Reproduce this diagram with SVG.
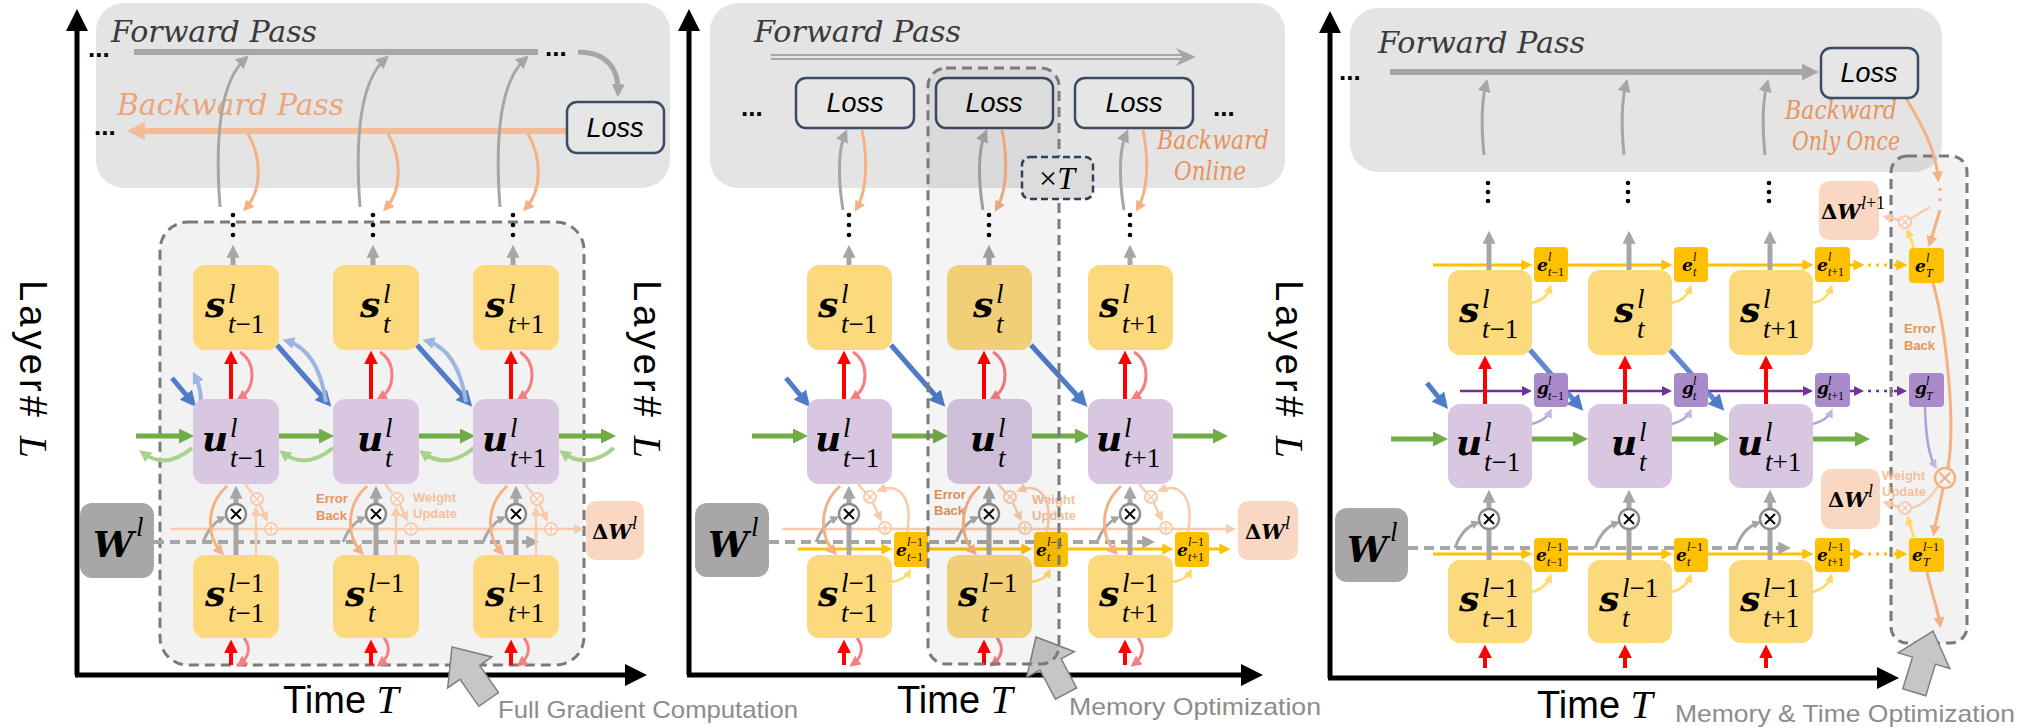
<svg xmlns="http://www.w3.org/2000/svg" width="2032" height="728" viewBox="0 0 2032 728">
<style>
.panel{fill:#e4e4e4}
.sb{fill:#fcd97c}
.ub{fill:#d9c7e2}
.wb{fill:#a8a6a6}
.dwb{fill:#f9d7c2}
.eb{fill:#ffc000}
.gb{fill:#a98bcb}
.loss{fill:#e6e6e6;stroke:#3b4a66;stroke-width:2.5}
.dash{stroke:#7a7a7a;stroke-width:3;stroke-dasharray:10 6}
.mv{font-family:"DejaVu Serif",serif;font-weight:bold;font-style:italic;font-size:36px}
.ix{font-family:"Liberation Serif",serif;font-style:italic;font-size:27px}
.mvs{font-family:"DejaVu Serif",serif;font-weight:bold;font-style:italic;font-size:17px}
.ixs{font-family:"Liberation Serif",serif;font-style:italic;font-size:12px}
.dl{font-family:"DejaVu Serif",serif;font-weight:bold;font-size:21px}
.dW{font-family:"DejaVu Serif",serif;font-weight:bold;font-style:italic;font-size:21px}
.dx{font-family:"Liberation Serif",serif;font-style:italic;font-size:18px}
.up{font-style:normal}
.fp{font-family:"DejaVu Serif",serif;font-style:italic;font-size:29px;fill:#3a3a3a}
.bp{font-family:"DejaVu Serif",serif;font-style:italic;font-size:29px;fill:#eaa57c}
.bo{font-family:"DejaVu Serif",serif;font-style:italic;font-size:26px;fill:#e8935c}
.ls{font-family:"Liberation Sans",sans-serif;font-style:italic;font-size:27px;text-anchor:middle}
.ax{font-family:"Liberation Sans",sans-serif;font-size:38px}
.axi{font-family:"Liberation Serif",serif;font-style:italic;font-size:40px}
.cap{font-family:"Liberation Sans",sans-serif;font-size:24px;fill:#8c8c8c}
.eb-t{font-family:"Liberation Sans",sans-serif;font-weight:bold;font-size:13px;fill:#e8935c}
.wu-t{font-family:"Liberation Sans",sans-serif;font-weight:bold;font-size:13px;fill:#f5bf9a}
.dots{font-family:"Liberation Sans",sans-serif;font-weight:bold;font-size:26px}
.g3{fill:none;stroke:#a6a6a6;stroke-width:3}
.g5{fill:none;stroke:#a6a6a6;stroke-width:5}
.or3{fill:none;stroke:#f4b183;stroke-width:3}
.pe{fill:none;stroke:#f8cbad;stroke-width:2.5}
.red{fill:none;stroke:#ff0000;stroke-width:4}
.lred{fill:none;stroke:#f57f82;stroke-width:3}
.grn{fill:none;stroke:#70ad47;stroke-width:5}
.lgrn{fill:none;stroke:#a9d18e;stroke-width:4}
.blu{fill:none;stroke:#4f7cc9;stroke-width:5}
.lblu{fill:none;stroke:#9db5e0;stroke-width:4}
.gold{fill:none;stroke:#ffc000;stroke-width:3}
.lyel{fill:none;stroke:#ffd966;stroke-width:2.5}
.pur{fill:none;stroke:#7030a0;stroke-width:2.5}
.lpur{fill:none;stroke:#b4a0d8;stroke-width:2.5}
.wd{fill:none;stroke:#a6a6a6;stroke-width:4;stroke-dasharray:10 6}
.axis{fill:none;stroke:#000;stroke-width:5}
.dot{fill:#000}
</style>
<defs>
<marker id="ag" viewBox="0 0 10 10" refX="6" refY="5" markerWidth="13" markerHeight="13" markerUnits="userSpaceOnUse" orient="auto"><path d="M0,0 L10,5 L0,10 z" fill="#a6a6a6"/></marker>
<marker id="ags" viewBox="0 0 10 10" refX="6" refY="5" markerWidth="9" markerHeight="9" markerUnits="userSpaceOnUse" orient="auto"><path d="M0,0 L10,5 L0,10 z" fill="#a6a6a6"/></marker>
<marker id="agL" viewBox="0 0 10 10" refX="6" refY="5" markerWidth="17" markerHeight="17" markerUnits="userSpaceOnUse" orient="auto"><path d="M0,0 L10,5 L0,10 z" fill="#a6a6a6"/></marker>
<marker id="ao" viewBox="0 0 10 10" refX="6" refY="5" markerWidth="11" markerHeight="11" markerUnits="userSpaceOnUse" orient="auto"><path d="M0,0 L10,5 L0,10 z" fill="#f4b183"/></marker>
<marker id="aoL" viewBox="0 0 10 10" refX="6" refY="5" markerWidth="18" markerHeight="18" markerUnits="userSpaceOnUse" orient="auto"><path d="M0,0 L10,5 L0,10 z" fill="#f1bc98"/></marker>
<marker id="ape" viewBox="0 0 10 10" refX="6" refY="5" markerWidth="10" markerHeight="10" markerUnits="userSpaceOnUse" orient="auto"><path d="M0,0 L10,5 L0,10 z" fill="#f8cbad"/></marker>
<marker id="ar" viewBox="0 0 10 10" refX="6" refY="5" markerWidth="14" markerHeight="14" markerUnits="userSpaceOnUse" orient="auto"><path d="M0,0 L10,5 L0,10 z" fill="#ff0000"/></marker>
<marker id="alr" viewBox="0 0 10 10" refX="6" refY="5" markerWidth="11" markerHeight="11" markerUnits="userSpaceOnUse" orient="auto"><path d="M0,0 L10,5 L0,10 z" fill="#f57f82"/></marker>
<marker id="agn" viewBox="0 0 10 10" refX="6" refY="5" markerWidth="15" markerHeight="15" markerUnits="userSpaceOnUse" orient="auto"><path d="M0,0 L10,5 L0,10 z" fill="#70ad47"/></marker>
<marker id="algn" viewBox="0 0 10 10" refX="6" refY="5" markerWidth="12" markerHeight="12" markerUnits="userSpaceOnUse" orient="auto"><path d="M0,0 L10,5 L0,10 z" fill="#a9d18e"/></marker>
<marker id="ab" viewBox="0 0 10 10" refX="6" refY="5" markerWidth="16" markerHeight="16" markerUnits="userSpaceOnUse" orient="auto"><path d="M0,0 L10,5 L0,10 z" fill="#4f7cc9"/></marker>
<marker id="alb" viewBox="0 0 10 10" refX="6" refY="5" markerWidth="12" markerHeight="12" markerUnits="userSpaceOnUse" orient="auto"><path d="M0,0 L10,5 L0,10 z" fill="#9db5e0"/></marker>
<marker id="ay" viewBox="0 0 10 10" refX="6" refY="5" markerWidth="11" markerHeight="11" markerUnits="userSpaceOnUse" orient="auto"><path d="M0,0 L10,5 L0,10 z" fill="#ffc000"/></marker>
<marker id="aly" viewBox="0 0 10 10" refX="6" refY="5" markerWidth="9" markerHeight="9" markerUnits="userSpaceOnUse" orient="auto"><path d="M0,0 L10,5 L0,10 z" fill="#ffd966"/></marker>
<marker id="ap" viewBox="0 0 10 10" refX="6" refY="5" markerWidth="10" markerHeight="10" markerUnits="userSpaceOnUse" orient="auto"><path d="M0,0 L10,5 L0,10 z" fill="#7030a0"/></marker>
<marker id="alp" viewBox="0 0 10 10" refX="6" refY="5" markerWidth="9" markerHeight="9" markerUnits="userSpaceOnUse" orient="auto"><path d="M0,0 L10,5 L0,10 z" fill="#c2b3e0"/></marker>
<marker id="ak" viewBox="0 0 10 10" refX="5" refY="5" markerWidth="22" markerHeight="22" markerUnits="userSpaceOnUse" orient="auto"><path d="M0,0 L10,5 L0,10 z" fill="#000"/></marker>
<g id="ox"><circle r="10" fill="#fff" stroke="#8c8c8c" stroke-width="2.5"/><path d="M-5,-5 L5,5 M-5,5 L5,-5" stroke="#000" stroke-width="2"/></g>
<g id="oxs"><circle r="6" fill="#fff" fill-opacity="0.5" stroke="#f8cbad" stroke-width="2"/><path d="M-3.5,-3.5 L3.5,3.5 M-3.5,3.5 L3.5,-3.5" stroke="#f8cbad" stroke-width="1.5"/></g>
<g id="ops"><circle r="6" fill="#fff" fill-opacity="0.5" stroke="#f8cbad" stroke-width="2"/><path d="M-4,0 H4 M0,-4 V4" stroke="#f8cbad" stroke-width="1.5"/></g>
<g id="oxb"><circle r="10" fill="#f2f2f2" stroke="#f4b183" stroke-width="2.5"/><path d="M-5.5,-5.5 L5.5,5.5 M-5.5,5.5 L5.5,-5.5" stroke="#f4b183" stroke-width="2"/></g>
<path id="blk" d="M0,0 L27,31 L12,31 L12,64 L-12,64 L-12,31 L-27,31 Z" fill="#c6c6c6" stroke="#7f7f7f" stroke-width="1.5"/>
</defs>

<!-- backgrounds: loss regions and grouping frames -->
<g id="backgrounds">
  <rect x="96" y="3" width="574" height="185" rx="28" class="panel"/>
  <rect x="160" y="222" width="424" height="443" rx="28" fill="#f2f2f2" class="dash"/>
  <rect x="710" y="3" width="575" height="185" rx="28" class="panel"/>
  <rect x="1350" y="8" width="592" height="164" rx="28" class="panel"/>
  <rect x="1891" y="156" width="76" height="487" rx="16" fill="#000" fill-opacity="0.05" class="dash"/>
</g>

<!-- axes and axis titles -->
<g id="axes">
  <path d="M77,675 V20" class="axis" marker-end="url(#ak)"/>
  <path d="M75,675 H636" class="axis" marker-end="url(#ak)"/>
  <path d="M689,675 V20" class="axis" marker-end="url(#ak)"/>
  <path d="M687,675 H1252" class="axis" marker-end="url(#ak)"/>
  <path d="M1330,678 V22" class="axis" marker-end="url(#ak)"/>
  <path d="M1328,678 H1888" class="axis" marker-end="url(#ak)"/>
  <text transform="translate(20,280) rotate(90)" class="ax" font-size="40" textLength="178" lengthAdjust="spacing">Layer# <tspan class="axi">L</tspan></text>
  <text transform="translate(634,280) rotate(90)" class="ax" font-size="40" textLength="178" lengthAdjust="spacing">Layer# <tspan class="axi">L</tspan></text>
  <text transform="translate(1276,280) rotate(90)" class="ax" font-size="40" textLength="178" lengthAdjust="spacing">Layer# <tspan class="axi">L</tspan></text>
  <text x="283" y="713" class="ax">Time <tspan class="axi">T</tspan></text>
  <text x="897" y="713" class="ax">Time <tspan class="axi">T</tspan></text>
  <text x="1537" y="718" class="ax">Time <tspan class="axi">T</tspan></text>
  <text x="498" y="718" class="cap" textLength="300" lengthAdjust="spacingAndGlyphs">Full Gradient Computation</text>
  <text x="1069" y="715" class="cap" textLength="252" lengthAdjust="spacingAndGlyphs">Memory Optimization</text>
  <text x="1675" y="722" class="cap" textLength="340" lengthAdjust="spacingAndGlyphs">Memory &amp; Time Optimization</text>
  <use href="#blk" transform="translate(452,647) rotate(-35)"/>
  <use href="#blk" transform="translate(1036,637) rotate(-28)"/>
  <use href="#blk" transform="translate(1933,631) rotate(17)"/>
</g>

<!-- panel labels -->
<g id="labels">
  <text x="111" y="42" class="fp" textLength="206" lengthAdjust="spacingAndGlyphs">Forward Pass</text>
  <text x="117" y="115" class="bp" textLength="227" lengthAdjust="spacingAndGlyphs">Backward Pass</text>
  <text x="88" y="57" class="dots">...</text>
  <text x="545" y="56" class="dots">...</text>
  <text x="94" y="135" class="dots">...</text>
  <text x="754" y="42" class="fp" textLength="207" lengthAdjust="spacingAndGlyphs">Forward Pass</text>
  <text x="741" y="116" class="dots">...</text>
  <text x="1213" y="116" class="dots">...</text>
  <text x="1157" y="149" class="bo" textLength="112" lengthAdjust="spacingAndGlyphs">Backward</text>
  <text x="1174" y="180" class="bo" textLength="72" lengthAdjust="spacingAndGlyphs">Online</text>
  <text x="1378" y="53" class="fp" textLength="207" lengthAdjust="spacingAndGlyphs">Forward Pass</text>
  <text x="1339" y="80" class="dots">...</text>
  <text x="1785" y="119" class="bo" textLength="112" lengthAdjust="spacingAndGlyphs">Backward</text>
  <text x="1792" y="150" class="bo" textLength="108" lengthAdjust="spacingAndGlyphs">Only Once</text>
  <text class="eb-t"><tspan x="316" y="503">Error</tspan><tspan x="316" y="520">Back</tspan></text>
  <text class="wu-t"><tspan x="413" y="502">Weight</tspan><tspan x="413" y="518">Update</tspan></text>
  <text class="eb-t"><tspan x="934" y="499">Error</tspan><tspan x="934" y="515">Back</tspan></text>
  <text class="wu-t"><tspan x="1032" y="504">Weight</tspan><tspan x="1032" y="520">Update</tspan></text>
  <text class="eb-t"><tspan x="1904" y="333">Error</tspan><tspan x="1904" y="350">Back</tspan></text>
  <text class="wu-t"><tspan x="1882" y="480">Weight</tspan><tspan x="1882" y="496">Update</tspan></text>
</g>

<!-- connectors -->
<g id="connectors">
  <!-- panel 1: forward / backward passes -->
  <path d="M134,52 H538" stroke="#a6a6a6" stroke-width="6"/>
  <path d="M578,52 C606,52 619,68 618,92" class="g5" marker-end="url(#ag)"/>
  <path d="M566,131 H134" stroke="#f1bc98" stroke-width="6" marker-end="url(#aoL)"/>
  <path d="M220,207 C215,140 220,82 245,59" class="g3" marker-end="url(#ag)"/>
  <path d="M360,207 C355,140 360,82 385,59" class="g3" marker-end="url(#ag)"/>
  <path d="M500,207 C495,140 500,82 525,59" class="g3" marker-end="url(#ag)"/>
  <path d="M248,134 C262,158 262,190 246,208" class="or3" marker-end="url(#ao)"/>
  <path d="M388,134 C402,158 402,190 386,208" class="or3" marker-end="url(#ao)"/>
  <path d="M528,134 C542,158 542,190 526,208" class="or3" marker-end="url(#ao)"/>
  <circle cx="233" cy="215" r="2.3" class="dot"/><circle cx="233" cy="225" r="2.3" class="dot"/><circle cx="233" cy="235" r="2.3" class="dot"/>
  <circle cx="373" cy="215" r="2.3" class="dot"/><circle cx="373" cy="225" r="2.3" class="dot"/><circle cx="373" cy="235" r="2.3" class="dot"/>
  <circle cx="513" cy="215" r="2.3" class="dot"/><circle cx="513" cy="225" r="2.3" class="dot"/><circle cx="513" cy="235" r="2.3" class="dot"/>
  <path d="M233,265 V250" class="g5" marker-end="url(#ag)"/>
  <path d="M373,265 V250" class="g5" marker-end="url(#ag)"/>
  <path d="M513,265 V250" class="g5" marker-end="url(#ag)"/>
  <!-- panel 1: spatial (red) -->
  <path d="M231,399 V356" class="red" marker-end="url(#ar)"/>
  <path d="M371,399 V356" class="red" marker-end="url(#ar)"/>
  <path d="M511,399 V356" class="red" marker-end="url(#ar)"/>
  <path d="M240,352 C256,362 256,388 240,398" class="lred" marker-end="url(#alr)"/>
  <path d="M380,352 C396,362 396,388 380,398" class="lred" marker-end="url(#alr)"/>
  <path d="M520,352 C536,362 536,388 520,398" class="lred" marker-end="url(#alr)"/>
  <path d="M231,665 V645" class="red" marker-end="url(#ar)"/>
  <path d="M371,665 V645" class="red" marker-end="url(#ar)"/>
  <path d="M511,665 V645" class="red" marker-end="url(#ar)"/>
  <path d="M244,638 C252,648 248,658 240,664" class="lred" marker-end="url(#alr)"/>
  <path d="M384,638 C392,648 388,658 380,664" class="lred" marker-end="url(#alr)"/>
  <path d="M524,638 C532,648 528,658 520,664" class="lred" marker-end="url(#alr)"/>
  <!-- panel 1: temporal (green) -->
  <path d="M136,436 H188" class="grn" marker-end="url(#agn)"/>
  <path d="M279,436 H328" class="grn" marker-end="url(#agn)"/>
  <path d="M419,436 H469" class="grn" marker-end="url(#agn)"/>
  <path d="M559,436 H610" class="grn" marker-end="url(#agn)"/>
  <path d="M192,448 Q166,470 143,453" class="lgrn" marker-end="url(#algn)"/>
  <path d="M333,448 Q306,470 283,453" class="lgrn" marker-end="url(#algn)"/>
  <path d="M474,448 Q447,470 423,453" class="lgrn" marker-end="url(#algn)"/>
  <path d="M614,448 Q588,470 563,453" class="lgrn" marker-end="url(#algn)"/>
  <!-- panel 1: recurrent (blue) -->
  <path d="M172,378 L192,402" class="blu" marker-end="url(#ab)"/>
  <path d="M277,345 L327,402" class="blu" marker-end="url(#ab)"/>
  <path d="M417,345 L468,402" class="blu" marker-end="url(#ab)"/>
  <path d="M201,402 Q201,388 195,376" class="lblu" marker-end="url(#alb)"/>
  <path d="M326,402 Q318,350 287,341" class="lblu" marker-end="url(#alb)"/>
  <path d="M466,402 Q458,350 427,341" class="lblu" marker-end="url(#alb)"/>
  <!-- panel 1: weights and gradients -->
  <path d="M154,542 H534" class="wd" marker-end="url(#ag)"/>
  <path d="M170,529 H580" class="pe" stroke-width="3" marker-end="url(#ape)"/>
  <path d="M236,555 V491" class="g5" marker-end="url(#ag)"/>
  <path d="M376,555 V491" class="g5" marker-end="url(#ag)"/>
  <path d="M516,555 V491" class="g5" marker-end="url(#ag)"/>
  <path d="M203,542 Q210,524 223,518" class="g3" marker-end="url(#ags)"/>
  <path d="M343,542 Q350,524 363,518" class="g3" marker-end="url(#ags)"/>
  <path d="M483,542 Q490,524 503,518" class="g3" marker-end="url(#ags)"/>
  <path d="M227,486 C206,505 206,535 221,552" class="or3" marker-end="url(#ao)"/>
  <path d="M367,486 C346,505 346,535 361,552" class="or3" marker-end="url(#ao)"/>
  <path d="M507,486 C486,505 486,535 501,552" class="or3" marker-end="url(#ao)"/>
  <path d="M245,484 L252,493 M385,484 L392,493 M525,484 L532,493" class="pe"/>
  <path d="M256,555 V510" class="pe" marker-end="url(#ape)"/>
  <path d="M396,555 V510" class="pe" marker-end="url(#ape)"/>
  <path d="M536,555 V510" class="pe" marker-end="url(#ape)"/>
  <path d="M260,505 L266,518" class="pe" marker-end="url(#ape)"/>
  <path d="M400,505 L406,518" class="pe" marker-end="url(#ape)"/>
  <path d="M540,505 L546,518" class="pe" marker-end="url(#ape)"/>

  <!-- panel 2: forward pass and online losses -->
  <path d="M771,55 H1188 M771,59 H1188" stroke="#a6a6a6" stroke-width="2"/>
  <path d="M1176,48 L1196,57 L1176,66 L1182,57 Z" fill="#a6a6a6"/>
  <path d="M843,210 C838,180 838,150 845,134" class="g3" marker-end="url(#ag)"/>
  <path d="M983,210 C978,180 978,150 985,134" class="g3" marker-end="url(#ag)"/>
  <path d="M1124,210 C1119,180 1119,150 1126,134" class="g3" marker-end="url(#ag)"/>
  <path d="M862,130 C868,160 867,190 857,208" class="or3" marker-end="url(#ao)"/>
  <path d="M1002,130 C1008,160 1007,190 997,208" class="or3" marker-end="url(#ao)"/>
  <path d="M1143,130 C1149,160 1148,190 1138,208" class="or3" marker-end="url(#ao)"/>
  <circle cx="849" cy="215" r="2.3" class="dot"/><circle cx="849" cy="225" r="2.3" class="dot"/><circle cx="849" cy="235" r="2.3" class="dot"/>
  <circle cx="989" cy="215" r="2.3" class="dot"/><circle cx="989" cy="225" r="2.3" class="dot"/><circle cx="989" cy="235" r="2.3" class="dot"/>
  <circle cx="1130" cy="215" r="2.3" class="dot"/><circle cx="1130" cy="225" r="2.3" class="dot"/><circle cx="1130" cy="235" r="2.3" class="dot"/>
  <path d="M849,265 V250" class="g5" marker-end="url(#ag)"/>
  <path d="M989,265 V250" class="g5" marker-end="url(#ag)"/>
  <path d="M1130,265 V250" class="g5" marker-end="url(#ag)"/>
  <!-- panel 2: spatial (red) -->
  <path d="M844,399 V356" class="red" marker-end="url(#ar)"/>
  <path d="M984,399 V356" class="red" marker-end="url(#ar)"/>
  <path d="M1125,399 V356" class="red" marker-end="url(#ar)"/>
  <path d="M853,352 C869,362 869,388 853,398" class="lred" marker-end="url(#alr)"/>
  <path d="M993,352 C1009,362 1009,388 993,398" class="lred" marker-end="url(#alr)"/>
  <path d="M1134,352 C1150,362 1150,388 1134,398" class="lred" marker-end="url(#alr)"/>
  <path d="M844,665 V645" class="red" marker-end="url(#ar)"/>
  <path d="M984,665 V645" class="red" marker-end="url(#ar)"/>
  <path d="M1125,665 V645" class="red" marker-end="url(#ar)"/>
  <path d="M857,638 C865,648 861,658 853,664" class="lred" marker-end="url(#alr)"/>
  <path d="M997,638 C1005,648 1001,658 993,664" class="lred" marker-end="url(#alr)"/>
  <path d="M1138,638 C1146,648 1142,658 1134,664" class="lred" marker-end="url(#alr)"/>
  <!-- panel 2: temporal (green) and recurrent (blue) -->
  <path d="M752,436 H802" class="grn" marker-end="url(#agn)"/>
  <path d="M891,436 H942" class="grn" marker-end="url(#agn)"/>
  <path d="M1031,436 H1084" class="grn" marker-end="url(#agn)"/>
  <path d="M1172,436 H1222" class="grn" marker-end="url(#agn)"/>
  <path d="M786,378 L806,402" class="blu" marker-end="url(#ab)"/>
  <path d="M891,345 L941,402" class="blu" marker-end="url(#ab)"/>
  <path d="M1031,345 L1083,402" class="blu" marker-end="url(#ab)"/>
  <!-- panel 2: weights, traces and gradients -->
  <path d="M769,542 H1150" class="wd" marker-end="url(#ag)"/>
  <path d="M782,529 H1232" class="pe" stroke-width="3" marker-end="url(#ape)"/>
  <path d="M798,549 H888" class="gold" marker-end="url(#ay)"/>
  <path d="M928,549 H1028" class="gold" marker-end="url(#ay)"/>
  <path d="M1068,549 H1169" class="gold" marker-end="url(#ay)"/>
  <path d="M1209,549 H1226" class="gold" marker-end="url(#ay)"/>
  <path d="M849,555 V491" class="g5" marker-end="url(#ag)"/>
  <path d="M989,555 V491" class="g5" marker-end="url(#ag)"/>
  <path d="M1130,555 V491" class="g5" marker-end="url(#ag)"/>
  <path d="M816,542 Q823,524 836,518" class="g3" marker-end="url(#ags)"/>
  <path d="M956,542 Q963,524 976,518" class="g3" marker-end="url(#ags)"/>
  <path d="M1097,542 Q1104,524 1117,518" class="g3" marker-end="url(#ags)"/>
  <path d="M840,486 C819,505 819,535 834,552" class="or3" marker-end="url(#ao)"/>
  <path d="M980,486 C959,505 959,535 974,552" class="or3" marker-end="url(#ao)"/>
  <path d="M1121,486 C1100,505 1100,535 1115,552" class="or3" marker-end="url(#ao)"/>
  <path d="M858,484 L866,493 M998,484 L1006,493 M1139,484 L1147,493" class="pe"/>
  <path d="M907,532 C913,500 901,482 880,490" class="pe" marker-end="url(#ape)"/>
  <path d="M1047,532 C1053,500 1041,482 1020,490" class="pe" marker-end="url(#ape)"/>
  <path d="M1188,532 C1194,500 1182,482 1161,490" class="pe" marker-end="url(#ape)"/>
  <path d="M873,503 L880,518" class="pe" marker-end="url(#ape)"/>
  <path d="M1013,503 L1020,518" class="pe" marker-end="url(#ape)"/>
  <path d="M1154,503 L1161,518" class="pe" marker-end="url(#ape)"/>
  <path d="M891,582 Q905,580 909,572" class="lyel" marker-end="url(#aly)"/>
  <path d="M1031,582 Q1045,580 1049,572" class="lyel" marker-end="url(#aly)"/>
  <path d="M1172,582 Q1186,580 1190,572" class="lyel" marker-end="url(#aly)"/>

  <!-- panel 3: forward pass to single loss -->
  <path d="M1390,72 H1812" stroke="#a6a6a6" stroke-width="6" marker-end="url(#agL)"/>
  <path d="M1484,155 C1481,125 1482,100 1486,84" class="g3" marker-end="url(#ag)"/>
  <path d="M1624,155 C1621,125 1622,100 1626,84" class="g3" marker-end="url(#ag)"/>
  <path d="M1765,155 C1762,125 1763,100 1767,84" class="g3" marker-end="url(#ag)"/>
  <circle cx="1488" cy="183" r="2.3" class="dot"/><circle cx="1488" cy="192" r="2.3" class="dot"/><circle cx="1488" cy="201" r="2.3" class="dot"/>
  <circle cx="1628" cy="183" r="2.3" class="dot"/><circle cx="1628" cy="192" r="2.3" class="dot"/><circle cx="1628" cy="201" r="2.3" class="dot"/>
  <circle cx="1769" cy="183" r="2.3" class="dot"/><circle cx="1769" cy="192" r="2.3" class="dot"/><circle cx="1769" cy="201" r="2.3" class="dot"/>
  <!-- panel 3: eligibility traces -->
  <path d="M1433,265 H1528" class="gold" marker-end="url(#ay)"/>
  <path d="M1568,265 H1668" class="gold" marker-end="url(#ay)"/>
  <path d="M1708,265 H1809" class="gold" marker-end="url(#ay)"/>
  <path d="M1850,265 H1860" class="gold" marker-end="url(#ay)"/>
  <path d="M1868,265 H1893" class="gold" stroke-dasharray="3 5"/>
  <path d="M1894,265 H1903" class="gold" marker-end="url(#ay)"/>
  <path d="M1460,391 H1528" class="pur" marker-end="url(#ap)"/>
  <path d="M1568,391 H1668" class="pur" marker-end="url(#ap)"/>
  <path d="M1708,391 H1809" class="pur" marker-end="url(#ap)"/>
  <path d="M1850,391 H1860" class="pur" marker-end="url(#ap)"/>
  <path d="M1868,391 H1893" class="pur" stroke-dasharray="3 5"/>
  <path d="M1894,391 H1903" class="pur" marker-end="url(#ap)"/>
  <path d="M1433,554 H1528" class="gold" marker-end="url(#ay)"/>
  <path d="M1568,554 H1668" class="gold" marker-end="url(#ay)"/>
  <path d="M1708,554 H1809" class="gold" marker-end="url(#ay)"/>
  <path d="M1850,554 H1860" class="gold" marker-end="url(#ay)"/>
  <path d="M1868,554 H1893" class="gold" stroke-dasharray="3 5"/>
  <path d="M1894,554 H1903" class="gold" marker-end="url(#ay)"/>
  <path d="M1532,303 Q1546,300 1550,288" class="lyel" marker-end="url(#aly)"/>
  <path d="M1672,303 Q1686,300 1690,288" class="lyel" marker-end="url(#aly)"/>
  <path d="M1813,303 Q1827,300 1831,288" class="lyel" marker-end="url(#aly)"/>
  <path d="M1532,424 Q1546,420 1550,412" class="lpur" marker-end="url(#alp)"/>
  <path d="M1672,424 Q1686,420 1690,412" class="lpur" marker-end="url(#alp)"/>
  <path d="M1813,424 Q1827,420 1831,412" class="lpur" marker-end="url(#alp)"/>
  <path d="M1532,592 Q1546,588 1550,577" class="lyel" marker-end="url(#aly)"/>
  <path d="M1672,592 Q1686,588 1690,577" class="lyel" marker-end="url(#aly)"/>
  <path d="M1813,592 Q1827,588 1831,577" class="lyel" marker-end="url(#aly)"/>
  <path d="M1489,270 V236" class="g5" marker-end="url(#ag)"/>
  <path d="M1629,270 V236" class="g5" marker-end="url(#ag)"/>
  <path d="M1770,270 V236" class="g5" marker-end="url(#ag)"/>
  <!-- panel 3: spatial, temporal, recurrent -->
  <path d="M1485,404 V361" class="red" marker-end="url(#ar)"/>
  <path d="M1625,404 V361" class="red" marker-end="url(#ar)"/>
  <path d="M1766,404 V361" class="red" marker-end="url(#ar)"/>
  <path d="M1485,668 V650" class="red" marker-end="url(#ar)"/>
  <path d="M1625,668 V650" class="red" marker-end="url(#ar)"/>
  <path d="M1766,668 V650" class="red" marker-end="url(#ar)"/>
  <path d="M1391,439 H1442" class="grn" marker-end="url(#agn)"/>
  <path d="M1532,439 H1582" class="grn" marker-end="url(#agn)"/>
  <path d="M1672,439 H1723" class="grn" marker-end="url(#agn)"/>
  <path d="M1813,439 H1864" class="grn" marker-end="url(#agn)"/>
  <path d="M1427,383 L1444,404" class="blu" marker-end="url(#ab)"/>
  <path d="M1530,350 L1579,406" class="blu" stroke-opacity="0.9" marker-end="url(#ab)"/>
  <path d="M1670,350 L1720,406" class="blu" stroke-opacity="0.9" marker-end="url(#ab)"/>
  <!-- panel 3: weights -->
  <path d="M1408,548 H1786" class="wd" marker-end="url(#ag)"/>
  <path d="M1489,560 V495" class="g5" marker-end="url(#ag)"/>
  <path d="M1629,560 V495" class="g5" marker-end="url(#ag)"/>
  <path d="M1770,560 V495" class="g5" marker-end="url(#ag)"/>
  <path d="M1455,548 Q1462,528 1477,523" class="g3" marker-end="url(#ags)"/>
  <path d="M1595,548 Q1602,528 1617,523" class="g3" marker-end="url(#ags)"/>
  <path d="M1736,548 Q1743,528 1758,523" class="g3" marker-end="url(#ags)"/>
  <!-- panel 3: single backward step and weight update -->
  <path d="M1906,98 C1922,125 1936,150 1938,178" class="or3" marker-end="url(#ao)"/>
  <path d="M1940,188 V206" class="or3" stroke-dasharray="3 7"/>
  <path d="M1940,210 L1930,243" class="or3" marker-end="url(#ao)"/>
  <path d="M1933,283 C1946,330 1956,420 1948,468" class="or3"/>
  <path d="M1943,488 C1940,505 1936,520 1934,532" class="or3" marker-end="url(#ao)"/>
  <path d="M1927,572 C1932,595 1938,610 1940,624" class="or3" marker-end="url(#ao)"/>
  <path d="M1925,407 C1926,440 1929,456 1935,466" class="lpur" marker-end="url(#alp)"/>
  <path d="M1938,486 C1930,500 1920,506 1911,508" class="pe"/>
  <path d="M1899,507 L1886,503" class="pe" marker-end="url(#ape)"/>
  <path d="M1914,537 L1908,519" class="lyel" marker-end="url(#aly)"/>
  <path d="M1930,207 L1910,219" class="pe"/>
  <path d="M1899,220 L1886,217" class="pe" marker-end="url(#ape)"/>
  <path d="M1914,248 L1908,232" class="lyel" marker-end="url(#aly)"/>
</g>

<!-- operators -->
<g id="operators">
  <use href="#ox" x="236" y="514"/><use href="#ox" x="376" y="514"/><use href="#ox" x="516" y="514"/>
  <use href="#oxs" x="257" y="499"/><use href="#oxs" x="397" y="499"/><use href="#oxs" x="537" y="499"/>
  <use href="#ops" x="271" y="529"/><use href="#ops" x="411" y="529"/><use href="#ops" x="551" y="529"/>
  <use href="#ox" x="849" y="514"/><use href="#ox" x="989" y="514"/><use href="#ox" x="1130" y="514"/>
  <use href="#oxs" x="870" y="497"/><use href="#oxs" x="1010" y="497"/><use href="#oxs" x="1151" y="497"/>
  <use href="#ops" x="885" y="528"/><use href="#ops" x="1025" y="528"/><use href="#ops" x="1166" y="528"/>
  <use href="#ox" x="1489" y="519"/><use href="#ox" x="1629" y="519"/><use href="#ox" x="1770" y="519"/>
  <use href="#oxb" x="1945" y="478"/>
  <use href="#oxs" x="1905" y="508"/>
  <use href="#oxs" x="1905" y="222"/>
</g>

<!-- panel 1 nodes -->
<g id="p1-loss"><rect x="567" y="102" width="97" height="51" rx="10" class="loss"/><text x="615" y="137" class="ls">Loss</text></g>
<g id="p1-s-l-tm1"><rect x="193" y="265" width="86" height="85" rx="12" class="sb"/><text><tspan class="mv" x="205" y="317">s</tspan><tspan class="ix" x="228" y="303">l</tspan><tspan class="ix" x="228" y="333">t<tspan class="up">−1</tspan></tspan></text></g>
<g id="p1-s-l-t"><rect x="333" y="265" width="86" height="85" rx="12" class="sb"/><text><tspan class="mv" x="360" y="317">s</tspan><tspan class="ix" x="383" y="303">l</tspan><tspan class="ix" x="383" y="333">t</tspan></text></g>
<g id="p1-s-l-tp1"><rect x="473" y="265" width="86" height="85" rx="12" class="sb"/><text><tspan class="mv" x="485" y="317">s</tspan><tspan class="ix" x="508" y="303">l</tspan><tspan class="ix" x="508" y="333">t<tspan class="up">+1</tspan></tspan></text></g>
<g id="p1-u-tm1"><rect x="193" y="399" width="86" height="85" rx="12" class="ub"/><text><tspan class="mv" x="202" y="451">u</tspan><tspan class="ix" x="230" y="437">l</tspan><tspan class="ix" x="230" y="467">t<tspan class="up">−1</tspan></tspan></text></g>
<g id="p1-u-t"><rect x="333" y="399" width="86" height="85" rx="12" class="ub"/><text><tspan class="mv" x="357" y="451">u</tspan><tspan class="ix" x="385" y="437">l</tspan><tspan class="ix" x="385" y="467">t</tspan></text></g>
<g id="p1-u-tp1"><rect x="473" y="399" width="86" height="85" rx="12" class="ub"/><text><tspan class="mv" x="482" y="451">u</tspan><tspan class="ix" x="510" y="437">l</tspan><tspan class="ix" x="510" y="467">t<tspan class="up">+1</tspan></tspan></text></g>
<g id="p1-s-lm1-tm1"><rect x="193" y="555" width="86" height="83" rx="12" class="sb"/><text><tspan class="mv" x="205" y="606">s</tspan><tspan class="ix" x="228" y="592">l<tspan class="up">−1</tspan></tspan><tspan class="ix" x="228" y="622">t<tspan class="up">−1</tspan></tspan></text></g>
<g id="p1-s-lm1-t"><rect x="333" y="555" width="86" height="83" rx="12" class="sb"/><text><tspan class="mv" x="345" y="606">s</tspan><tspan class="ix" x="368" y="592">l<tspan class="up">−1</tspan></tspan><tspan class="ix" x="368" y="622">t</tspan></text></g>
<g id="p1-s-lm1-tp1"><rect x="473" y="555" width="86" height="83" rx="12" class="sb"/><text><tspan class="mv" x="485" y="606">s</tspan><tspan class="ix" x="508" y="592">l<tspan class="up">−1</tspan></tspan><tspan class="ix" x="508" y="622">t<tspan class="up">+1</tspan></tspan></text></g>
<g id="p1-w"><rect x="80" y="503" width="74" height="75" rx="12" class="wb"/><text><tspan class="mv" font-size="40" x="93" y="557">W</tspan><tspan class="ix" font-size="28" x="136" y="536">l</tspan></text></g>
<g id="p1-dw"><rect x="586" y="501" width="58" height="59" rx="10" class="dwb"/><text x="592" y="539"><tspan class="dl">Δ</tspan><tspan class="dW">W</tspan><tspan class="dx" dy="-10">l</tspan></text></g>

<!-- panel 2 nodes -->
<g id="p2-loss-1"><rect x="796" y="78" width="118" height="50" rx="10" class="loss"/><text x="855" y="112" class="ls">Loss</text></g>
<g id="p2-loss-2"><rect x="936" y="78" width="117" height="50" rx="10" class="loss"/><text x="994" y="112" class="ls">Loss</text></g>
<g id="p2-loss-3"><rect x="1075" y="78" width="118" height="50" rx="10" class="loss"/><text x="1134" y="112" class="ls">Loss</text></g>
<g id="p2-s-l-tm1"><rect x="807" y="265" width="85" height="85" rx="12" class="sb"/><text><tspan class="mv" x="818" y="317">s</tspan><tspan class="ix" x="841" y="303">l</tspan><tspan class="ix" x="841" y="333">t<tspan class="up">−1</tspan></tspan></text></g>
<g id="p2-s-l-t"><rect x="947" y="265" width="85" height="85" rx="12" class="sb"/><text><tspan class="mv" x="973" y="317">s</tspan><tspan class="ix" x="996" y="303">l</tspan><tspan class="ix" x="996" y="333">t</tspan></text></g>
<g id="p2-s-l-tp1"><rect x="1088" y="265" width="85" height="85" rx="12" class="sb"/><text><tspan class="mv" x="1099" y="317">s</tspan><tspan class="ix" x="1122" y="303">l</tspan><tspan class="ix" x="1122" y="333">t<tspan class="up">+1</tspan></tspan></text></g>
<g id="p2-u-tm1"><rect x="807" y="399" width="85" height="85" rx="12" class="ub"/><text><tspan class="mv" x="815" y="451">u</tspan><tspan class="ix" x="843" y="437">l</tspan><tspan class="ix" x="843" y="467">t<tspan class="up">−1</tspan></tspan></text></g>
<g id="p2-u-t"><rect x="947" y="399" width="85" height="85" rx="12" class="ub"/><text><tspan class="mv" x="970" y="451">u</tspan><tspan class="ix" x="998" y="437">l</tspan><tspan class="ix" x="998" y="467">t</tspan></text></g>
<g id="p2-u-tp1"><rect x="1088" y="399" width="85" height="85" rx="12" class="ub"/><text><tspan class="mv" x="1096" y="451">u</tspan><tspan class="ix" x="1124" y="437">l</tspan><tspan class="ix" x="1124" y="467">t<tspan class="up">+1</tspan></tspan></text></g>
<g id="p2-s-lm1-tm1"><rect x="807" y="555" width="85" height="83" rx="12" class="sb"/><text><tspan class="mv" x="818" y="606">s</tspan><tspan class="ix" x="841" y="592">l<tspan class="up">−1</tspan></tspan><tspan class="ix" x="841" y="622">t<tspan class="up">−1</tspan></tspan></text></g>
<g id="p2-s-lm1-t"><rect x="947" y="555" width="85" height="83" rx="12" class="sb"/><text><tspan class="mv" x="958" y="606">s</tspan><tspan class="ix" x="981" y="592">l<tspan class="up">−1</tspan></tspan><tspan class="ix" x="981" y="622">t</tspan></text></g>
<g id="p2-s-lm1-tp1"><rect x="1088" y="555" width="85" height="83" rx="12" class="sb"/><text><tspan class="mv" x="1099" y="606">s</tspan><tspan class="ix" x="1122" y="592">l<tspan class="up">−1</tspan></tspan><tspan class="ix" x="1122" y="622">t<tspan class="up">+1</tspan></tspan></text></g>
<g id="p2-e-tm1"><rect x="894" y="532" width="34" height="35" rx="4" class="eb"/><text><tspan class="mvs" x="896" y="556">e</tspan><tspan class="ixs" x="907" y="546">l<tspan class="up">−1</tspan></tspan><tspan class="ixs" x="907" y="561">t<tspan class="up">−1</tspan></tspan></text></g>
<g id="p2-e-t"><rect x="1034" y="532" width="34" height="35" rx="4" class="eb"/><text><tspan class="mvs" x="1036" y="556">e</tspan><tspan class="ixs" x="1047" y="546">l<tspan class="up">−1</tspan></tspan><tspan class="ixs" x="1047" y="561">t</tspan></text></g>
<g id="p2-e-tp1"><rect x="1175" y="532" width="34" height="35" rx="4" class="eb"/><text><tspan class="mvs" x="1177" y="556">e</tspan><tspan class="ixs" x="1188" y="546">l<tspan class="up">−1</tspan></tspan><tspan class="ixs" x="1188" y="561">t<tspan class="up">+1</tspan></tspan></text></g>
<g id="p2-w"><rect x="695" y="503" width="74" height="74" rx="12" class="wb"/><text><tspan class="mv" font-size="40" x="708" y="557">W</tspan><tspan class="ix" font-size="28" x="751" y="536">l</tspan></text></g>
<g id="p2-dw"><rect x="1238" y="501" width="60" height="59" rx="10" class="dwb"/><text x="1245" y="539"><tspan class="dl">Δ</tspan><tspan class="dW">W</tspan><tspan class="dx" dy="-10">l</tspan></text></g>
<g id="p2-step-frame"><rect x="928" y="68" width="131" height="596" rx="18" fill="#000" fill-opacity="0.045" class="dash"/></g>
<g id="p2-times-t"><rect x="1022" y="157" width="71" height="42" rx="8" fill="#dcdcdc" stroke="#2f3e5a" stroke-width="2.5" stroke-dasharray="7 4"/><text x="1057" y="189" text-anchor="middle" font-family="Liberation Serif, serif" font-size="32">×<tspan font-style="italic">T</tspan></text></g>

<!-- panel 3 nodes -->
<g id="p3-loss"><rect x="1821" y="48" width="97" height="50" rx="10" class="loss"/><text x="1869" y="82" class="ls">Loss</text></g>
<g id="p3-s-l-tm1"><rect x="1448" y="270" width="84" height="85" rx="12" class="sb"/><text><tspan class="mv" x="1459" y="322">s</tspan><tspan class="ix" x="1482" y="308">l</tspan><tspan class="ix" x="1482" y="338">t<tspan class="up">−1</tspan></tspan></text></g>
<g id="p3-s-l-t"><rect x="1588" y="270" width="84" height="85" rx="12" class="sb"/><text><tspan class="mv" x="1614" y="322">s</tspan><tspan class="ix" x="1637" y="308">l</tspan><tspan class="ix" x="1637" y="338">t</tspan></text></g>
<g id="p3-s-l-tp1"><rect x="1729" y="270" width="84" height="85" rx="12" class="sb"/><text><tspan class="mv" x="1740" y="322">s</tspan><tspan class="ix" x="1763" y="308">l</tspan><tspan class="ix" x="1763" y="338">t<tspan class="up">+1</tspan></tspan></text></g>
<g id="p3-u-tm1"><rect x="1448" y="404" width="84" height="84" rx="12" class="ub"/><text><tspan class="mv" x="1456" y="455">u</tspan><tspan class="ix" x="1484" y="441">l</tspan><tspan class="ix" x="1484" y="471">t<tspan class="up">−1</tspan></tspan></text></g>
<g id="p3-u-t"><rect x="1588" y="404" width="84" height="84" rx="12" class="ub"/><text><tspan class="mv" x="1611" y="455">u</tspan><tspan class="ix" x="1639" y="441">l</tspan><tspan class="ix" x="1639" y="471">t</tspan></text></g>
<g id="p3-u-tp1"><rect x="1729" y="404" width="84" height="84" rx="12" class="ub"/><text><tspan class="mv" x="1737" y="455">u</tspan><tspan class="ix" x="1765" y="441">l</tspan><tspan class="ix" x="1765" y="471">t<tspan class="up">+1</tspan></tspan></text></g>
<g id="p3-s-lm1-tm1"><rect x="1448" y="560" width="84" height="83" rx="12" class="sb"/><text><tspan class="mv" x="1459" y="611">s</tspan><tspan class="ix" x="1482" y="597">l<tspan class="up">−1</tspan></tspan><tspan class="ix" x="1482" y="627">t<tspan class="up">−1</tspan></tspan></text></g>
<g id="p3-s-lm1-t"><rect x="1588" y="560" width="84" height="83" rx="12" class="sb"/><text><tspan class="mv" x="1599" y="611">s</tspan><tspan class="ix" x="1622" y="597">l<tspan class="up">−1</tspan></tspan><tspan class="ix" x="1622" y="627">t</tspan></text></g>
<g id="p3-s-lm1-tp1"><rect x="1729" y="560" width="84" height="83" rx="12" class="sb"/><text><tspan class="mv" x="1740" y="611">s</tspan><tspan class="ix" x="1763" y="597">l<tspan class="up">−1</tspan></tspan><tspan class="ix" x="1763" y="627">t<tspan class="up">+1</tspan></tspan></text></g>
<g id="p3-e-l-tm1"><rect x="1534" y="247" width="34" height="35" rx="4" class="eb"/><text><tspan class="mvs" x="1537" y="271">e</tspan><tspan class="ixs" x="1548" y="261">l</tspan><tspan class="ixs" x="1548" y="276">t<tspan class="up">−1</tspan></tspan></text></g>
<g id="p3-e-l-t"><rect x="1674" y="247" width="34" height="35" rx="4" class="eb"/><text><tspan class="mvs" x="1682" y="271">e</tspan><tspan class="ixs" x="1693" y="261">l</tspan><tspan class="ixs" x="1693" y="276">t</tspan></text></g>
<g id="p3-e-l-tp1"><rect x="1815" y="247" width="35" height="35" rx="4" class="eb"/><text><tspan class="mvs" x="1817" y="271">e</tspan><tspan class="ixs" x="1828" y="261">l</tspan><tspan class="ixs" x="1828" y="276">t<tspan class="up">+1</tspan></tspan></text></g>
<g id="p3-e-l-T"><rect x="1909" y="248" width="35" height="35" rx="4" class="eb"/><text><tspan class="mvs" x="1915" y="272">e</tspan><tspan class="ixs" x="1926" y="262">l</tspan><tspan class="ixs" x="1926" y="277">T</tspan></text></g>
<g id="p3-g-tm1"><rect x="1534" y="373" width="34" height="34" rx="4" class="gb"/><text><tspan class="mvs" x="1537" y="394">g</tspan><tspan class="ixs" x="1548" y="385">l</tspan><tspan class="ixs" x="1548" y="400">t<tspan class="up">−1</tspan></tspan></text></g>
<g id="p3-g-t"><rect x="1674" y="373" width="34" height="34" rx="4" class="gb"/><text><tspan class="mvs" x="1682" y="394">g</tspan><tspan class="ixs" x="1693" y="385">l</tspan><tspan class="ixs" x="1693" y="400">t</tspan></text></g>
<g id="p3-g-tp1"><rect x="1815" y="373" width="35" height="34" rx="4" class="gb"/><text><tspan class="mvs" x="1817" y="394">g</tspan><tspan class="ixs" x="1828" y="385">l</tspan><tspan class="ixs" x="1828" y="400">t<tspan class="up">+1</tspan></tspan></text></g>
<g id="p3-g-T"><rect x="1909" y="373" width="35" height="34" rx="4" class="gb"/><text><tspan class="mvs" x="1915" y="394">g</tspan><tspan class="ixs" x="1926" y="385">l</tspan><tspan class="ixs" x="1926" y="400">T</tspan></text></g>
<g id="p3-e-lm1-tm1"><rect x="1534" y="538" width="34" height="34" rx="4" class="eb"/><text><tspan class="mvs" x="1536" y="561">e</tspan><tspan class="ixs" x="1547" y="551">l<tspan class="up">−1</tspan></tspan><tspan class="ixs" x="1547" y="566">t<tspan class="up">−1</tspan></tspan></text></g>
<g id="p3-e-lm1-t"><rect x="1674" y="538" width="34" height="34" rx="4" class="eb"/><text><tspan class="mvs" x="1676" y="561">e</tspan><tspan class="ixs" x="1687" y="551">l<tspan class="up">−1</tspan></tspan><tspan class="ixs" x="1687" y="566">t</tspan></text></g>
<g id="p3-e-lm1-tp1"><rect x="1815" y="538" width="35" height="34" rx="4" class="eb"/><text><tspan class="mvs" x="1817" y="561">e</tspan><tspan class="ixs" x="1828" y="551">l<tspan class="up">−1</tspan></tspan><tspan class="ixs" x="1828" y="566">t<tspan class="up">+1</tspan></tspan></text></g>
<g id="p3-e-lm1-T"><rect x="1909" y="538" width="35" height="34" rx="4" class="eb"/><text><tspan class="mvs" x="1912" y="561">e</tspan><tspan class="ixs" x="1923" y="551">l<tspan class="up">−1</tspan></tspan><tspan class="ixs" x="1923" y="566">T</tspan></text></g>
<g id="p3-w"><rect x="1335" y="508" width="73" height="74" rx="12" class="wb"/><text><tspan class="mv" font-size="40" x="1347" y="562">W</tspan><tspan class="ix" font-size="28" x="1390" y="541">l</tspan></text></g>
<g id="p3-dw-lp1"><rect x="1819" y="181" width="60" height="59" rx="10" class="dwb"/><text x="1821" y="219"><tspan class="dl">Δ</tspan><tspan class="dW">W</tspan><tspan class="dx" dy="-10"><tspan>l</tspan><tspan class="up">+1</tspan></tspan></text></g>
<g id="p3-dw-l"><rect x="1821" y="469" width="59" height="60" rx="10" class="dwb"/><text x="1828" y="507"><tspan class="dl">Δ</tspan><tspan class="dW">W</tspan><tspan class="dx" dy="-10">l</tspan></text></g>
</svg>
